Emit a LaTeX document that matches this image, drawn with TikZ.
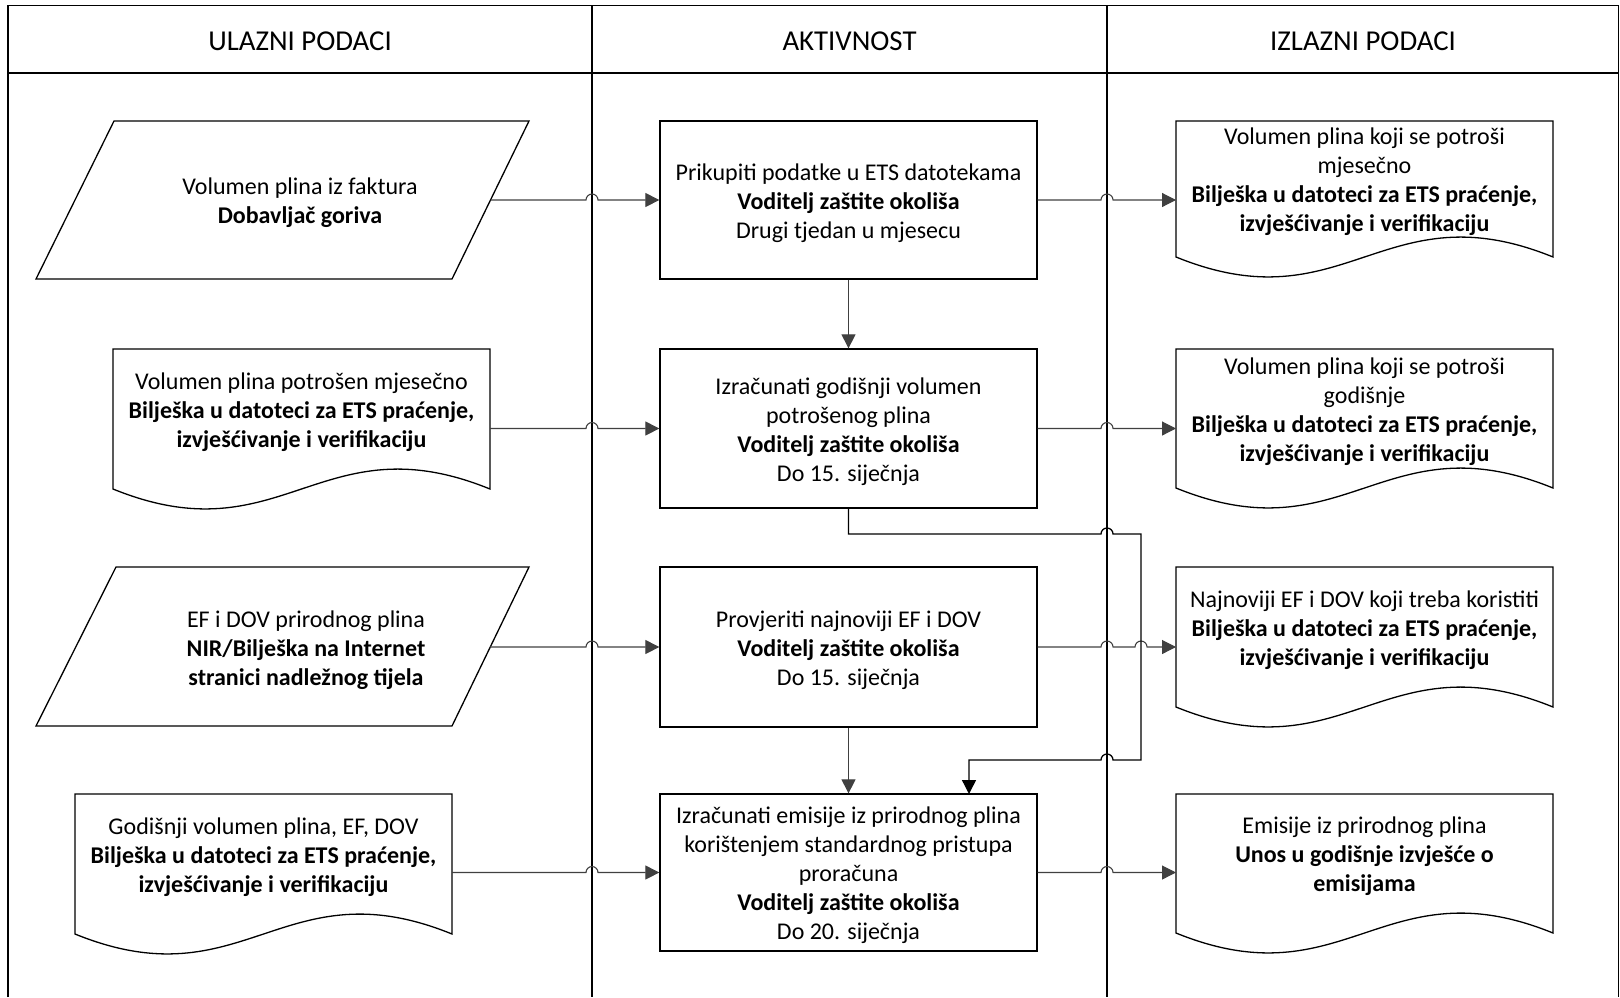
\documentclass[tikz,border=0pt]{standalone}
\usepackage{fontspec}
\setmainfont{Carlito}
\usetikzlibrary{arrows.meta,calc}
\definecolor{cgray}{HTML}{404040}
\tikzset{
  shp/.style={draw=black, line width=0.65pt},
  lane/.style={draw=black, line width=0.7pt},
  txt/.style={align=center, inner sep=0pt, font=\fontsize{12}{14.5}\selectfont},
  box/.style={shp, inner sep=0pt, minimum width=188.5pt},
  boxtxt/.style={txt, yshift=-1.5pt},
  head/.style={inner sep=0pt, font=\fontsize{14.4}{16}\selectfont},
  conn/.style={draw=cgray, line width=0.55pt, -{Triangle[length=7pt,width=7pt,fill=cgray]}},
  connb/.style={draw=black, line width=0.65pt, -{Triangle[length=7pt,width=7pt,fill=black]}},
}
\begin{document}
\begin{tikzpicture}[x=0.5pt,y=-0.5pt]
\useasboundingbox (0,0) rectangle (1620,997);
% lanes
\coordinate (l1) at (592,0);
\coordinate (l2) at (1107,0);
\draw[lane] (8,997) -- (8,5.5) -- (1618.5,5.5) -- (1618.5,997);
\draw[lane] (8,73) -- (1618.5,73);
\draw[lane] (592,5.5) -- (592,997);
\draw[lane] (1107,5.5) -- (1107,997);
\node[head] (h1) at (300,41) {ULAZNI PODACI};
\node[head] (h2) at (849.5,41) {AKTIVNOST};
\node[head] (h3) at (1363,41) {IZLAZNI PODACI};

% ---- row 1
\draw[shp] (114,121) -- (529,121) -- (452,279) -- (36,279) -- cycle;
\node[txt] (p1) at (300,203) {Volumen plina iz faktura\\\textbf{Dobavljač goriva}};
\coordinate (p1e) at (490.5,200);
\node[box, minimum height=79pt, label={[boxtxt]center:{Prikupiti podatke u ETS datotekama\\\textbf{Voditelj zaštite okoliša}\\Drugi tjedan u mjesecu}}] (b1) at (848.5,200) {};
\draw[shp] (1176,121) -- (1553,121) -- (1553,257) .. controls (1383.35,188) and (1345.65,326) .. (1176,257) -- cycle;
\node[txt] (d1) at (1364.5,182) {Volumen plina koji se potroši\\mjesečno\\\textbf{Bilješka u datoteci za ETS praćenje,}\\\textbf{izvješćivanje i verifikaciju}};
\coordinate (d1w) at (1176,200);

% ---- row 2
\draw[shp] (113,349) -- (490,349) -- (490,489) .. controls (320.35,420) and (282.65,558) .. (113,489) -- cycle;
\node[txt] (d2i) at (301.5,412) {Volumen plina potrošen mjesečno\\\textbf{Bilješka u datoteci za ETS praćenje,}\\\textbf{izvješćivanje i verifikaciju}};
\coordinate (d2ie) at (490,428.5);
\node[box, minimum height=79.5pt, label={[boxtxt]center:{Izračunati godišnji volumen\\potrošenog plina\\\textbf{Voditelj zaštite okoliša}\\Do 15. siječnja}}] (b2) at (848.5,428.5) {};
\draw[shp] (1176,349) -- (1553,349) -- (1553,488) .. controls (1383.35,419) and (1345.65,557) .. (1176,488) -- cycle;
\node[txt] (d2) at (1364.5,412) {Volumen plina koji se potroši\\godišnje\\\textbf{Bilješka u datoteci za ETS praćenje,}\\\textbf{izvješćivanje i verifikaciju}};
\coordinate (d2w) at (1176,428.5);

% ---- row 3
\draw[shp] (116,567) -- (529,567) -- (452,726) -- (36,726) -- cycle;
\node[txt] (p3) at (306,650) {EF i DOV prirodnog plina\\\textbf{NIR/Bilješka na Internet}\\\textbf{stranici nadležnog tijela}};
\coordinate (p3e) at (490,647);
\node[box, minimum height=80pt, label={[boxtxt]center:{Provjeriti najnoviji EF i DOV\\\textbf{Voditelj zaštite okoliša}\\Do 15. siječnja}}] (b3) at (848.5,647) {};
\draw[shp] (1176,567) -- (1553,567) -- (1553,707) .. controls (1383.35,638) and (1345.65,776) .. (1176,707) -- cycle;
\node[txt] (d3) at (1364.5,630) {Najnoviji EF i DOV koji treba koristiti\\\textbf{Bilješka u datoteci za ETS praćenje,}\\\textbf{izvješćivanje i verifikaciju}};
\coordinate (d3w) at (1176,647);

% ---- row 4
\draw[shp] (75,794) -- (452,794) -- (452,934) .. controls (282.35,865) and (244.65,1003) .. (75,934) -- cycle;
\node[txt] (d4i) at (263.5,857.5) {Godišnji volumen plina, EF, DOV\\\textbf{Bilješka u datoteci za ETS praćenje,}\\\textbf{izvješćivanje i verifikaciju}};
\coordinate (d4ie) at (452,872.5);
\node[box, minimum height=78.5pt, label={[boxtxt]center:{Izračunati emisije iz prirodnog plina\\korištenjem standardnog pristupa\\proračuna\\\textbf{Voditelj zaštite okoliša}\\Do 20. siječnja}}] (b4) at (848.5,872.5) {};
\draw[shp] (1176,794) -- (1553,794) -- (1553,933) .. controls (1383.35,864) and (1345.65,1002) .. (1176,933) -- cycle;
\node[txt] (d4) at (1364.5,856) {Emisije iz prirodnog plina\\\textbf{Unos u godišnje izvješće o}\\\textbf{emisijama}};
\coordinate (d4w) at (1176,872.5);

% ---- loop coordinates
\coordinate (lp1) at (848.5,534);
\coordinate (lp2) at (1141,534);
\coordinate (lp3) at (1141,760);
\coordinate (lp4) at (969,760);
\coordinate (b4t) at (969,794);

% ---- connectors
\draw[conn] (p1e) -- ($(p1e -| l1)+(-6,0)$) arc[start angle=180,end angle=360,radius=6] -- (b1.west);
\draw[conn] (b1.east) -- ($(b1.east -| l2)+(-6,0)$) arc[start angle=180,end angle=360,radius=6] -- (d1w);
\draw[conn] (b1.south) -- (b2.north);
\draw[conn] (d2ie) -- ($(d2ie -| l1)+(-6,0)$) arc[start angle=180,end angle=360,radius=6] -- (b2.west);
\draw[conn] (b2.east) -- ($(b2.east -| l2)+(-6,0)$) arc[start angle=180,end angle=360,radius=6] -- (d2w);
\draw[conn] (p3e) -- ($(p3e -| l1)+(-6,0)$) arc[start angle=180,end angle=360,radius=6] -- (b3.west);
\draw[conn] (b3.east) -- ($(b3.east -| l2)+(-6,0)$) arc[start angle=180,end angle=360,radius=6]
  -- ($(b3.east -| lp2)+(-6,0)$) arc[start angle=180,end angle=360,radius=6] -- (d3w);
\draw[conn] (b3.south) -- (b4.north);
\draw[conn] (d4ie) -- ($(d4ie -| l1)+(-6,0)$) arc[start angle=180,end angle=360,radius=6] -- (b4.west);
\draw[conn] (b4.east) -- ($(b4.east -| l2)+(-6,0)$) arc[start angle=180,end angle=360,radius=6] -- (d4w);
\draw[connb] (b2.south) -- (lp1) -- ($(lp1 -| l2)+(-6,0)$) arc[start angle=180,end angle=360,radius=6]
  -- (lp2) -- (lp3) -- ($(lp3 -| l2)+(6,0)$) arc[start angle=0,end angle=-180,radius=6] -- (lp4) -- (b4t);
\end{tikzpicture}
\end{document}
